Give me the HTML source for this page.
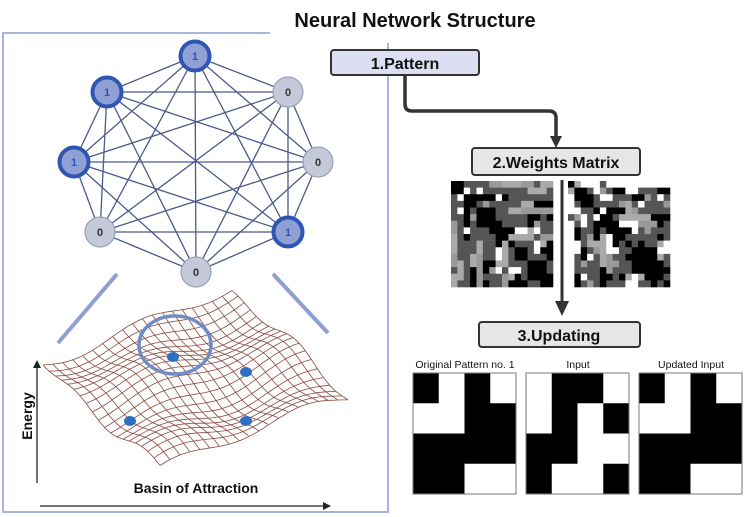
<!DOCTYPE html>
<html><head><meta charset="utf-8">
<style>
html,body{margin:0;padding:0;background:#fff;}
body{width:751px;height:517px;overflow:hidden;position:relative;font-family:"Liberation Sans",sans-serif;}
svg{position:absolute;left:0;top:0;}
</style></head>
<body>
<svg id="s" width="751" height="517" viewBox="0 0 751 517" xmlns="http://www.w3.org/2000/svg">
<polyline points="270,33 3,33 3,512 388,512 388,43" fill="none" stroke="#a9b4dc" stroke-width="2"/>
<g id="net" stroke="#4a5a8a" stroke-width="1.3"></g>
<g id="nodes"></g>
<line x1="117" y1="274" x2="58" y2="343" stroke="#8e9fd0" stroke-width="4"/>
<line x1="273" y1="274" x2="328" y2="333" stroke="#8e9fd0" stroke-width="4"/>
<g id="mesh" fill="none" stroke="#8a4a40" stroke-width="0.8"></g>
<ellipse cx="175" cy="345" rx="36" ry="29" fill="none" stroke="#6f8cc4" stroke-width="3.5"/>
<g fill="#2f6fc0">
<ellipse cx="173" cy="357" rx="6" ry="5"/><ellipse cx="246" cy="372" rx="6" ry="5"/>
<ellipse cx="130" cy="421" rx="6" ry="5"/><ellipse cx="246" cy="421" rx="6" ry="5"/>
</g>
<line x1="37" y1="483" x2="37" y2="366" stroke="#222" stroke-width="1.3"/>
<polygon points="37,360 33,368 41,368" fill="#222"/>
<line x1="40" y1="506" x2="324" y2="506" stroke="#222" stroke-width="1.3"/>
<polygon points="331,506 323,502 323,510" fill="#222"/>
<text x="0" y="0" transform="translate(32,416) rotate(-90)" text-anchor="middle" font-size="14" font-weight="bold" fill="#111">Energy</text>
<text x="196" y="493" text-anchor="middle" font-size="14" font-weight="bold" fill="#111">Basin of Attraction</text>

<text x="415" y="27" text-anchor="middle" font-size="20" font-weight="bold" fill="#111">Neural Network Structure</text>
<rect x="331" y="50" width="148" height="25" rx="3" fill="#dcdff2" stroke="#333" stroke-width="2"/>
<text x="405" y="69" text-anchor="middle" font-size="16" font-weight="bold" fill="#111">1.Pattern</text>
<path d="M405,75 V104 Q405,111 412,111 H549 Q556,111 556,118 V138" fill="none" stroke="#333" stroke-width="3.5"/>
<polygon points="556,148 550,136 562,136" fill="#333"/>
<rect x="472" y="148" width="168" height="27" rx="3" fill="#e6e6e6" stroke="#333" stroke-width="2"/>
<text x="556" y="168" text-anchor="middle" font-size="16" font-weight="bold" fill="#111">2.Weights Matrix</text>
<g id="m1"></g><g id="m2"></g>
<line x1="562" y1="180" x2="562" y2="302" stroke="#333" stroke-width="3"/>
<polygon points="562,316 555,301 569,301" fill="#333"/>
<rect x="479" y="322" width="161" height="25" rx="3" fill="#e6e6e6" stroke="#333" stroke-width="2"/>
<text x="559" y="341" text-anchor="middle" font-size="16" font-weight="bold" fill="#111">3.Updating</text>
<text x="465" y="368" text-anchor="middle" font-size="10.5" fill="#111">Original Pattern no. 1</text>
<text x="578" y="368" text-anchor="middle" font-size="10.5" fill="#111">Input</text>
<text x="691" y="368" text-anchor="middle" font-size="10.5" fill="#111">Updated Input</text>
<g id="pats"></g>
</svg>
<script>
var NS="http://www.w3.org/2000/svg";
function el(p,t,a){var e=document.createElementNS(NS,t);for(var k in a)e.setAttribute(k,a[k]);p.appendChild(e);return e;}
var nodes=[[195,56,1],[107,92,1],[288,92,0],[74,162,1],[318,162,0],[100,232,0],[288,232,1],[196,272,0]];
var net=document.getElementById('net');
for(var i=0;i<8;i++)for(var j=i+1;j<8;j++)el(net,'line',{x1:nodes[i][0],y1:nodes[i][1],x2:nodes[j][0],y2:nodes[j][1]});
var ng=document.getElementById('nodes');
nodes.forEach(function(n){
 if(n[2]){el(ng,'circle',{cx:n[0],cy:n[1],r:14.5,fill:'#8ea0d4',stroke:'#2f56b0','stroke-width':4});}
 else{el(ng,'circle',{cx:n[0],cy:n[1],r:15,fill:'#c3c9d8',stroke:'#8f97ad','stroke-width':1});}
 var t=el(ng,'text',{x:n[0],y:n[1]+4,'text-anchor':'middle','font-size':11,'font-weight':'bold',fill:n[2]?'#2f56b0':'#333'});t.textContent=n[2];
});
var P00=[43,360],P10=[232,293],P01=[160,470],P11=[348,398];
function pt(u,v){
 var x=(1-u)*(1-v)*P00[0]+u*(1-v)*P10[0]+(1-u)*v*P01[0]+u*v*P11[0];
 var y=(1-u)*(1-v)*P00[1]+u*(1-v)*P10[1]+(1-u)*v*P01[1]+u*v*P11[1];
 y+=6*Math.sin(u*9+v*4)+5*Math.cos(v*11-u*3);
 return [x,y];}
var mg=document.getElementById('mesh');var N=19;
for(var a=0;a<=N;a++){var d1='',d2='';for(var b=0;b<=40;b++){var p=pt(a/N,b/40),q=pt(b/40,a/N);d1+=(b?'L':'M')+p[0].toFixed(1)+','+p[1].toFixed(1);d2+=(b?'L':'M')+q[0].toFixed(1)+','+q[1].toFixed(1);}
 el(mg,'path',{d:d1});el(mg,'path',{d:d2});}
var seed=7;function rnd(){seed=(seed*16807)%2147483647;return seed/2147483647;}
var cols=['#000','#000','#555','#555','#555','#555','#999','#aaa','#fff'];
function mat(id,x0,y0){var g=document.getElementById(id);var n=16,w=102/n,h=106/n,M=[];
 for(var r=0;r<n;r++){M.push([]);for(var c=0;c<n;c++){
   var col;
   if(r==c)col='#000';else if(c<r)col=M[c][r];
   else if(c>0&&rnd()<0.4)col=M[r][c-1];
   else col=cols[Math.floor(rnd()*cols.length)];
   M[r].push(col);}}
 for(var r=0;r<n;r++)for(var c=0;c<n;c++)
  el(g,'rect',{x:(x0+c*w).toFixed(2),y:(y0+r*h).toFixed(2),width:(w+0.3).toFixed(2),height:(h+0.3).toFixed(2),fill:M[r][c]});}
mat('m1',451,181);mat('m2',568,181);
var orig=[[1,0,1,0],[0,0,1,1],[1,1,1,1],[1,1,0,0]];
var inp=[[0,1,1,0],[0,1,0,1],[1,1,0,0],[1,0,0,1]];
var pg=document.getElementById('pats');
function pat(m,x0){var w=103/4,h=121/4;
 for(var r=0;r<4;r++)for(var c=0;c<4;c++)el(pg,'rect',{x:x0+c*w,y:373+r*h,width:w+0.3,height:h+0.3,fill:m[r][c]?'#000':'#fff'});
 el(pg,'rect',{x:x0,y:373,width:103,height:121,fill:'none',stroke:'#777','stroke-width':1});}
pat(orig,413);pat(inp,526);pat(orig,639);
</script>
</body></html>
